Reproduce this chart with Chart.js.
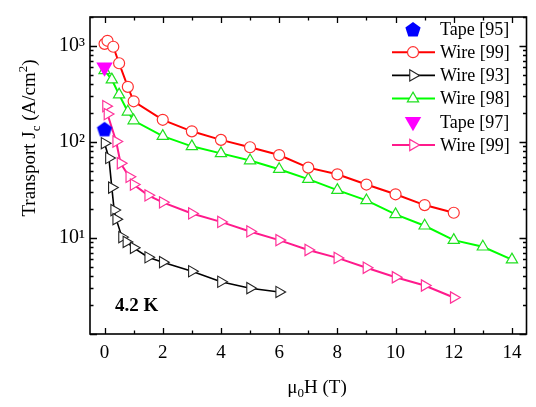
<!DOCTYPE html>
<html>
<head>
<meta charset="utf-8">
<script src="https://cdn.jsdelivr.net/npm/chart.js@4.4.0/dist/chart.umd.min.js"></script>
<style>
  html, body { margin: 0; padding: 0; background: #fff; }
  #wrap { width: 536px; height: 407px; }
</style>
</head>
<body>
<div id="wrap"><canvas id="jc"></canvas></div>
<script>
const FONT = "'Liberation Serif', 'Times New Roman', serif";

// data (field in T, Jc in A/cm2)
const tape95H = [0];
const tape95Jc = [137];
const wire99aH = [0, 0.1, 0.3, 0.5, 0.8, 1, 2, 3, 4, 5, 6, 7, 8, 9, 10, 11, 12];
const wire99aJc = [1050, 1130, 980, 660, 375, 265, 170, 129, 105, 88, 73, 54, 46, 36, 28.5, 22, 18.3];
const wire93H = [0, 0.15, 0.25, 0.33, 0.4, 0.6, 0.75, 1, 1.5, 2, 3, 4, 5, 6];
const wire93Jc = [97, 68, 33.5, 19.5, 15.7, 10.2, 9.1, 7.9, 6.3, 5.6, 4.5, 3.5, 3.0, 2.74];
const wire98H = [0, 0.25, 0.5, 0.8, 1, 2, 3, 4, 5, 6, 7, 8, 9, 10, 11, 12, 13, 14];
const wire98Jc = [555, 446, 311, 206, 167, 115, 90, 76, 64, 52, 41, 31.5, 24.6, 17.6, 13.4, 9.5, 8.1, 5.95];
const tape97H = [0];
const tape97Jc = [600];
const wire99bH = [0.05, 0.1, 0.4, 0.55, 0.85, 1, 1.5, 2, 3, 4, 5, 6, 7, 8, 9, 10, 11, 12];
const wire99bJc = [236, 195, 101, 60, 43.3, 36, 27.8, 23.5, 18, 14.7, 11.7, 9.5, 7.5, 6.2, 4.9, 3.9, 3.2, 2.4];

const legendLabels = ['Tape [95]', 'Wire [99]', 'Wire [93]', 'Wire [98]', 'Tape [97]', 'Wire [99]'];
const xTickLabels = ['0', '2', '4', '6', '8', '10', '12', '14'];
const yTickLabels = { 10: '10\u00b9', 100: '10\u00b2', 1000: '10\u00b3' };

function pts(xs, ys) {
  return xs.map((x, i) => ({ x: x, y: ys[i] }));
}

function pentagon(r, color) {
  const c = document.createElement('canvas');
  const s = Math.ceil(r * 2 + 2);
  c.width = s; c.height = s;
  const g = c.getContext('2d');
  g.fillStyle = color;
  g.beginPath();
  for (let i = 0; i < 5; i++) {
    const a = -Math.PI / 2 + i * 2 * Math.PI / 5;
    const px = s / 2 + r * Math.cos(a), py = s / 2 + 1 + r * Math.sin(a);
    if (i) g.lineTo(px, py); else g.moveTo(px, py);
  }
  g.closePath();
  g.fill();
  return c;
}
const penta = pentagon(8, '#0000ff');

// lower order is painted on top
const datasets = [
  { label: legendLabels[0], data: pts(tape95H, tape95Jc), showLine: false, order: -2,
    pointStyle: penta, pointRadius: 8, borderColor: '#0000ff', backgroundColor: '#0000ff' },
  { label: legendLabels[1], data: pts(wire99aH, wire99aJc), borderColor: '#ff0000', borderWidth: 2,
    pointStyle: 'circle', pointRadius: 5.5, pointBorderWidth: 1.2, pointBorderColor: '#ff3030', pointBackgroundColor: '#fff' },
  { label: legendLabels[2], data: pts(wire93H, wire93Jc), borderColor: '#000', borderWidth: 1.6,
    pointStyle: 'triangle', pointRotation: 90, pointRadius: 6.5, pointBorderWidth: 1.1, pointBorderColor: '#222', pointBackgroundColor: '#fff' },
  { label: legendLabels[3], data: pts(wire98H, wire98Jc), borderColor: '#00ff00', borderWidth: 2,
    pointStyle: 'triangle', pointRadius: 6.5, pointBorderWidth: 1.2, pointBorderColor: '#20e020', pointBackgroundColor: '#fff' },
  { label: legendLabels[4], data: pts(tape97H, tape97Jc), showLine: false, order: -1,
    pointStyle: 'triangle', pointRotation: 180, pointRadius: 9.5, pointBorderWidth: 0,
    pointBackgroundColor: '#ff00ff', borderColor: '#ff00ff' },
  { label: legendLabels[5], data: pts(wire99bH, wire99bJc), borderColor: '#ff1a8c', borderWidth: 2,
    pointStyle: 'triangle', pointRotation: 90, pointRadius: 6.5, pointBorderWidth: 1.2, pointBorderColor: '#ff3399', pointBackgroundColor: '#fff' }
];

function richText(ctx, parts, x, y, align) {
  let w = 0;
  parts.forEach(p => { ctx.font = p[1] + 'px ' + FONT; w += ctx.measureText(p[0]).width; });
  let cx = align === 'center' ? x - w / 2 : x;
  parts.forEach(p => {
    ctx.font = p[1] + 'px ' + FONT;
    ctx.fillText(p[0], cx, y + p[2]);
    cx += ctx.measureText(p[0]).width;
  });
}

const frame = {
  id: 'frame',
  afterDatasetsDraw(chart) {
    const ctx = chart.ctx;
    const a = chart.chartArea;
    const xs = chart.scales.x, ys = chart.scales.y;
    ctx.save();
    ctx.strokeStyle = '#000';
    ctx.lineWidth = 1.6;
    ctx.strokeRect(a.left, a.top, a.right - a.left, a.bottom - a.top);

    ctx.lineWidth = 1.3;
    ctx.beginPath();
    for (let v = 0; v <= 14; v++) {
      const px = Math.round(xs.getPixelForValue(v)) + 0.5;
      const len = v % 2 === 0 ? 6 : 3.5;
      ctx.moveTo(px, a.bottom); ctx.lineTo(px, a.bottom - len);
      ctx.moveTo(px, a.top); ctx.lineTo(px, a.top + len);
    }
    for (let d = 1; d <= 1000; d *= 10) {
      for (let m = 1; m <= 9; m++) {
        const v = m * d;
        if (v > ys.max) break;
        const py = Math.round(ys.getPixelForValue(v)) + 0.5;
        const len = m === 1 ? 7 : 3.5;
        ctx.moveTo(a.left, py); ctx.lineTo(a.left + len, py);
        ctx.moveTo(a.right, py); ctx.lineTo(a.right - len, py);
      }
    }
    ctx.stroke();

    // legend
    const helpers = Chart.helpers;
    ctx.textBaseline = 'middle';
    ctx.textAlign = 'left';
    chart.data.datasets.forEach((ds, i) => {
      const ly = 29 + i * 23.2;
      if (ds.showLine !== false) {
        ctx.strokeStyle = ds.borderColor;
        ctx.lineWidth = ds.borderWidth;
        ctx.beginPath();
        ctx.moveTo(392, ly); ctx.lineTo(435, ly);
        ctx.stroke();
      }
      ctx.fillStyle = ds.pointBackgroundColor || ds.backgroundColor;
      ctx.strokeStyle = ds.pointBorderColor || ds.borderColor;
      ctx.lineWidth = ds.pointBorderWidth || 0;
      helpers.drawPoint(ctx, {
        pointStyle: ds.pointStyle, rotation: ds.pointRotation || 0,
        radius: ds.pointRadius, borderWidth: ds.pointBorderWidth || 0
      }, 413, ly);
      ctx.fillStyle = '#000';
      ctx.font = '18px ' + FONT;
      ctx.fillText(ds.label, 440, ly + 1);
    });

    // annotation and axis titles
    ctx.fillStyle = '#000';
    ctx.textBaseline = 'alphabetic';
    ctx.font = 'bold 19px ' + FONT;
    ctx.fillText('4.2 K', 115, 311);

    richText(ctx, [['\u03bc', 19, 0], ['0', 13, 4], ['H (T)', 19, 0]], 317, 393, 'center');

    ctx.translate(35, 138);
    ctx.rotate(-Math.PI / 2);
    richText(ctx, [['Transport J', 19, 0], ['c', 13, 5], [' (A/cm', 19, 0], ['2', 13, -8], [')', 19, 0]], 0, 0, 'center');
    ctx.restore();
  }
};

Chart.defaults.font.family = FONT;
Chart.defaults.color = '#000';

new Chart(document.getElementById('jc'), {
  type: 'line',
  data: { datasets: datasets },
  options: {
    responsive: true,
    maintainAspectRatio: false,
    animation: false,
    layout: { padding: { top: 8, right: 2, left: 0, bottom: 0 } },
    plugins: { legend: { display: false }, tooltip: { enabled: false } },
    elements: { line: { tension: 0 } },
    scales: {
      x: {
        type: 'linear', min: -0.5, max: 14.5,
        grid: { display: false, drawTicks: false },
        border: { display: false },
        ticks: {
          stepSize: 2, includeBounds: false, autoSkip: false, maxRotation: 0, padding: 8,
          font: { size: 19 },
          callback: (v) => xTickLabels[v / 2] !== undefined && v % 2 === 0 ? xTickLabels[v / 2] : ''
        },
        afterFit: (s) => { s.height = 73; }
      },
      y: {
        type: 'logarithmic', min: 1, max: 2000,
        grid: { display: false, drawTicks: false },
        border: { display: false },
        ticks: {
          autoSkip: false, padding: 5,
          font: { size: 20 },
          callback: (v) => yTickLabels[v] || ''
        },
        afterFit: (s) => { s.width = 90; }
      }
    }
  },
  plugins: [frame]
});
</script>
</body>
</html>
